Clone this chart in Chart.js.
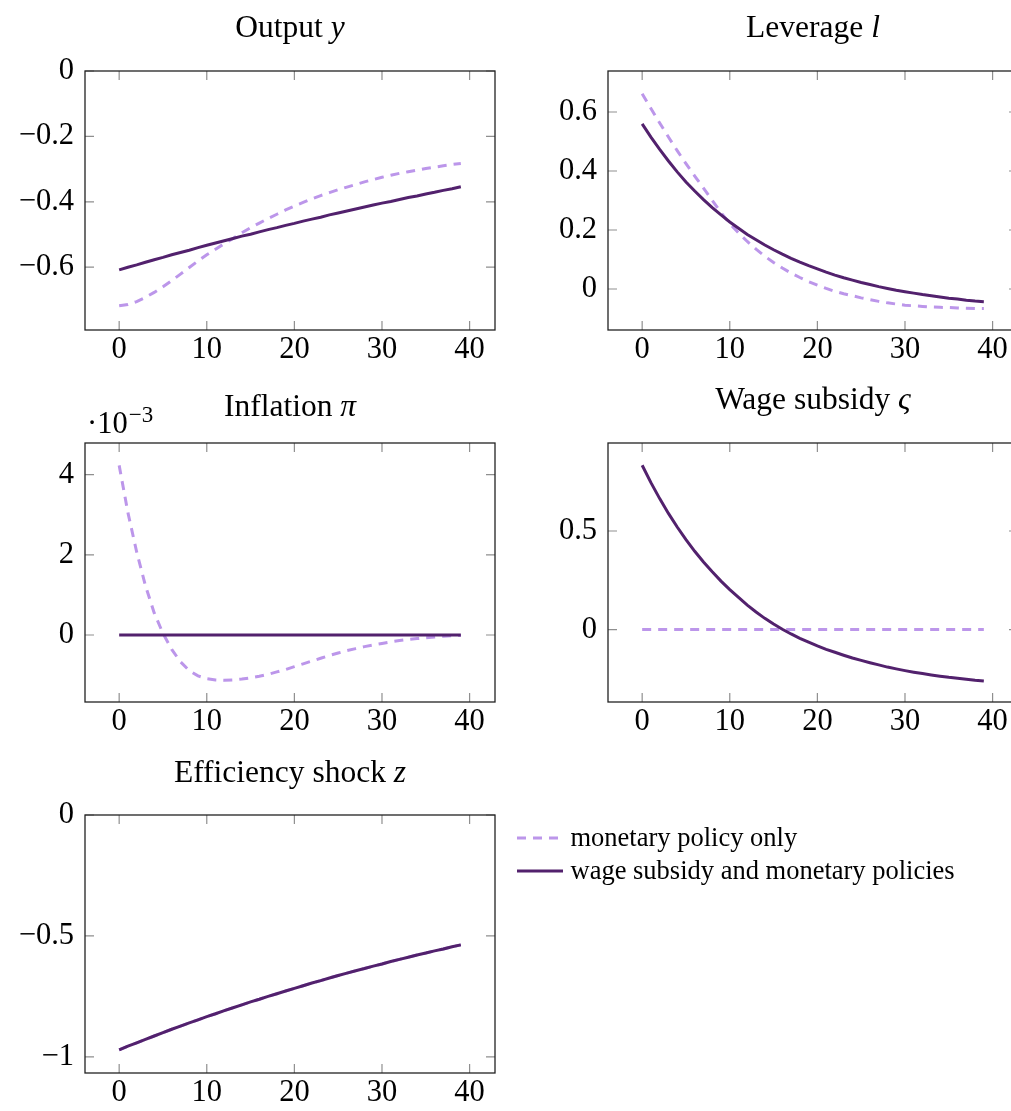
<!DOCTYPE html>
<html>
<head>
<meta charset="utf-8">
<script src="https://cdn.jsdelivr.net/npm/chart.js@4.4.1/dist/chart.umd.min.js"></script>
<style>
html, body { margin:0; padding:0; width:1011px; height:1111px; overflow:hidden; background:#ffffff; }
canvas { position:absolute; }
</style>
</head>
<body>
<canvas id="c1"></canvas>
<canvas id="c2"></canvas>
<canvas id="c3"></canvas>
<canvas id="c4"></canvas>
<canvas id="c5"></canvas>
<script>
// ---------------- DATA ----------------
const periods = [0,1,2,3,4,5,6,7,8,9,10,11,12,13,14,15,16,17,18,19,20,21,22,23,24,25,26,27,28,29,30,31,32,33,34,35,36,37,38,39];
const xTickValues = [0,10,20,30,40];
const seriesLabels = ['monetary policy only', 'wage subsidy and monetary policies'];

// Output y
const outputMonetary = [-0.718,-0.714,-0.705,-0.692,-0.677,-0.660,-0.641,-0.621,-0.601,-0.581,-0.562,-0.545,-0.528,-0.512,-0.495,-0.479,-0.465,-0.451,-0.438,-0.425,-0.413,-0.402,-0.391,-0.381,-0.372,-0.363,-0.355,-0.347,-0.339,-0.332,-0.325,-0.319,-0.313,-0.308,-0.303,-0.298,-0.294,-0.290,-0.286,-0.283];
const outputBoth = [-0.608,-0.600,-0.593,-0.585,-0.577,-0.570,-0.562,-0.555,-0.548,-0.540,-0.533,-0.526,-0.519,-0.512,-0.505,-0.499,-0.492,-0.485,-0.479,-0.472,-0.466,-0.459,-0.453,-0.447,-0.440,-0.434,-0.428,-0.422,-0.416,-0.410,-0.404,-0.399,-0.393,-0.387,-0.382,-0.376,-0.371,-0.365,-0.360,-0.354];
const outputYTicks = [0,-0.2,-0.4,-0.6];
const outputYLabels = ['0','\u22120.2','\u22120.4','\u22120.6'];

// Leverage l
const leverageMonetary = [0.662,0.612,0.563,0.515,0.469,0.425,0.383,0.342,0.300,0.259,0.222,0.190,0.161,0.135,0.111,0.090,0.071,0.054,0.039,0.025,0.013,0.002,-0.008,-0.016,-0.023,-0.030,-0.036,-0.042,-0.047,-0.051,-0.055,-0.057,-0.059,-0.061,-0.062,-0.063,-0.064,-0.065,-0.066,-0.066];
const leverageBoth = [0.560,0.515,0.473,0.434,0.397,0.363,0.332,0.303,0.276,0.251,0.227,0.206,0.185,0.167,0.149,0.133,0.118,0.104,0.091,0.079,0.068,0.057,0.047,0.038,0.030,0.022,0.015,0.008,0.002,-0.004,-0.009,-0.014,-0.019,-0.023,-0.027,-0.031,-0.034,-0.038,-0.041,-0.043];
const leverageYTicks = [0.6,0.4,0.2,0];
const leverageYLabels = ['0.6','0.4','0.2','0'];

// Inflation pi (values in units of 10^-3)
const inflationMonetary = [4.23,3.05,2.07,1.23,0.55,0.04,-0.36,-0.67,-0.89,-1.02,-1.09,-1.12,-1.13,-1.12,-1.10,-1.07,-1.03,-0.98,-0.92,-0.86,-0.79,-0.72,-0.65,-0.58,-0.51,-0.45,-0.39,-0.34,-0.29,-0.25,-0.21,-0.17,-0.14,-0.11,-0.09,-0.07,-0.05,-0.03,-0.02,-0.01];
const inflationBoth = [0,0,0,0,0,0,0,0,0,0,0,0,0,0,0,0,0,0,0,0,0,0,0,0,0,0,0,0,0,0,0,0,0,0,0,0,0,0,0,0];
const inflationYTicks = [4,2,0];
const inflationYLabels = ['4','2','0'];

// Wage subsidy varsigma
const subsidyMonetary = [0,0,0,0,0,0,0,0,0,0,0,0,0,0,0,0,0,0,0,0,0,0,0,0,0,0,0,0,0,0,0,0,0,0,0,0,0,0,0,0];
const subsidyBoth = [0.833,0.745,0.664,0.589,0.520,0.456,0.397,0.343,0.293,0.246,0.203,0.163,0.124,0.089,0.057,0.028,0.002,-0.022,-0.044,-0.064,-0.083,-0.100,-0.115,-0.130,-0.144,-0.156,-0.168,-0.179,-0.190,-0.199,-0.208,-0.216,-0.223,-0.230,-0.236,-0.242,-0.247,-0.252,-0.257,-0.261];
const subsidyYTicks = [0.5,0];
const subsidyYLabels = ['0.5','0'];

// Efficiency shock z
const shockMonetary = [-0.971,-0.956,-0.942,-0.928,-0.914,-0.900,-0.886,-0.873,-0.860,-0.847,-0.834,-0.822,-0.809,-0.797,-0.785,-0.773,-0.762,-0.750,-0.739,-0.728,-0.717,-0.706,-0.695,-0.685,-0.674,-0.664,-0.654,-0.644,-0.635,-0.625,-0.616,-0.606,-0.597,-0.588,-0.579,-0.571,-0.562,-0.554,-0.545,-0.537];
const shockBoth = [-0.971,-0.956,-0.942,-0.928,-0.914,-0.900,-0.886,-0.873,-0.860,-0.847,-0.834,-0.822,-0.809,-0.797,-0.785,-0.773,-0.762,-0.750,-0.739,-0.728,-0.717,-0.706,-0.695,-0.685,-0.674,-0.664,-0.654,-0.644,-0.635,-0.625,-0.616,-0.606,-0.597,-0.588,-0.579,-0.571,-0.562,-0.554,-0.545,-0.537];
const shockYTicks = [0,-0.5,-1];
const shockYLabels = ['0','\u22120.5','\u22121'];

// ---------------- STYLE / LAYOUT ----------------
const FONT = "'Liberation Serif', 'Times New Roman', serif";
const COLOR_DASHED = '#bc96ea';
const COLOR_SOLID = '#52216d';
const Y_AXIS_W = 85, X_AXIS_H = 45, PAD_TOP = 60, PLOT_W = 410;
const TITLE_SIZE = 31.5, TICK_SIZE = 30.5, LEGEND_SIZE = 26.5;

const panels = [
  { id:'c1', left:85,  top:71,  h:259, ymin:-0.792, ymax:0,     title:[['Output ',false],['y',true]],            titleGap:33.7,
    a:outputMonetary, b:outputBoth, yt:outputYTicks, yl:outputYLabels },
  { id:'c2', left:608, top:71,  h:259, ymin:-0.139, ymax:0.739, title:[['Leverage ',false],['l',true]],          titleGap:33.7,
    a:leverageMonetary, b:leverageBoth, yt:leverageYTicks, yl:leverageYLabels },
  { id:'c3', left:85,  top:443, h:259, ymin:-1.671, ymax:4.788, title:[['Inflation ',false],['\u03c0',true]],    titleGap:27,
    a:inflationMonetary, b:inflationBoth, yt:inflationYTicks, yl:inflationYLabels, multiplier:true },
  { id:'c4', left:608, top:443, h:259, ymin:-0.367, ymax:0.946, title:[['Wage subsidy ',false],['\u03c2',true]], titleGap:33.7,
    a:subsidyMonetary, b:subsidyBoth, yt:subsidyYTicks, yl:subsidyYLabels },
  { id:'c5', left:85,  top:815, h:258, ymin:-1.067, ymax:0,     title:[['Efficiency shock ',false],['z',true]],  titleGap:33.3,
    a:shockMonetary, b:shockBoth, yt:shockYTicks, yl:shockYLabels, legend:true, padRight:516 }
];
const panelById = {};
panels.forEach(p => panelById[p.id] = p);

const panelPlugin = {
  id: 'panelDecor',
  beforeDatasetsDraw(chart) {
    const {ctx, chartArea:a, scales:{x, y}} = chart;
    ctx.save();
    ctx.strokeStyle = '#8f8f8f';
    ctx.lineWidth = 1.2;
    ctx.beginPath();
    x.ticks.forEach(t => {
      const px = x.getPixelForValue(t.value);
      ctx.moveTo(px, a.top); ctx.lineTo(px, a.top + 9);
      ctx.moveTo(px, a.bottom); ctx.lineTo(px, a.bottom - 9);
    });
    y.ticks.forEach(t => {
      const py = y.getPixelForValue(t.value);
      ctx.moveTo(a.left, py); ctx.lineTo(a.left + 9, py);
      ctx.moveTo(a.right, py); ctx.lineTo(a.right - 9, py);
    });
    ctx.stroke();
    ctx.restore();
  },
  afterDatasetsDraw(chart) {
    const {ctx, chartArea:a} = chart;
    ctx.save();
    ctx.strokeStyle = '#222222';
    ctx.lineWidth = 1.3;
    ctx.strokeRect(a.left, a.top, a.right - a.left, a.bottom - a.top);
    ctx.restore();
  },
  afterDraw(chart) {
    const p = panelById[chart.canvas.id];
    if (!p) return;
    const {ctx, chartArea:a} = chart;
    ctx.save();
    ctx.fillStyle = '#000000';
    ctx.textBaseline = 'alphabetic';
    ctx.textAlign = 'left';
    // title
    let total = 0;
    const widths = p.title.map(([txt, it]) => {
      ctx.font = (it ? 'italic ' : '') + TITLE_SIZE + 'px ' + FONT;
      const w = ctx.measureText(txt).width; total += w; return w;
    });
    let xx = (a.left + a.right) / 2 - total / 2;
    const by = a.top - p.titleGap;
    p.title.forEach(([txt, it], i) => {
      ctx.font = (it ? 'italic ' : '') + TITLE_SIZE + 'px ' + FONT;
      ctx.fillText(txt, xx, by);
      xx += widths[i];
    });
    // multiplier
    if (p.multiplier) {
      ctx.font = TICK_SIZE + 'px ' + FONT;
      const base = '\u00b710';
      ctx.fillText(base, a.left + 2, a.top - 10.3);
      const w = ctx.measureText(base).width;
      ctx.font = '23px ' + FONT;
      ctx.fillText('\u22123', a.left + 2 + w + 1, a.top - 21.5);
    }
    // legend
    if (p.legend) {
      const ds = chart.data.datasets;
      ds.forEach((d, i) => {
        const ry = a.top + 23 + i * 33;
        ctx.save();
        ctx.strokeStyle = d.borderColor;
        ctx.lineWidth = d.borderWidth;
        ctx.setLineDash(d.borderDash || []);
        ctx.beginPath();
        ctx.moveTo(a.right + 22, ry);
        ctx.lineTo(a.right + 68, ry);
        ctx.stroke();
        ctx.restore();
        ctx.font = LEGEND_SIZE + 'px ' + FONT;
        ctx.fillStyle = '#000000';
        ctx.fillText(d.label, a.right + 75.5, ry + 7.5);
      });
    }
    ctx.restore();
  }
};

panels.forEach(p => {
  const cv = document.getElementById(p.id);
  const padR = p.padRight || 15;
  const W = Y_AXIS_W + PLOT_W + padR;
  const H = PAD_TOP + p.h + X_AXIS_H;
  cv.width = W; cv.height = H;
  cv.style.width = W + 'px'; cv.style.height = H + 'px';
  cv.style.left = (p.left - Y_AXIS_W) + 'px';
  cv.style.top = (p.top - PAD_TOP) + 'px';
  new Chart(cv, {
    type: 'line',
    data: {
      labels: periods,
      datasets: [
        { label: seriesLabels[0], data: p.a, borderColor: COLOR_DASHED, borderWidth: 3, borderDash: [9, 7],
          pointRadius: 0, tension: 0, fill: false, order: 1 },
        { label: seriesLabels[1], data: p.b, borderColor: COLOR_SOLID, borderWidth: 3,
          pointRadius: 0, tension: 0, fill: false, order: 0 }
      ]
    },
    options: {
      responsive: false,
      animation: false,
      devicePixelRatio: 1,
      layout: { padding: { top: PAD_TOP, right: padR, left: 0, bottom: 0 } },
      plugins: { legend: { display: false }, tooltip: { enabled: false }, title: { display: false } },
      scales: {
        x: {
          type: 'linear', min: -3.9, max: 42.9,
          grid: { display: false, drawTicks: false }, border: { display: false },
          afterBuildTicks: s => { s.ticks = xTickValues.map(v => ({ value: v })); },
          afterFit: s => { s.height = X_AXIS_H; },
          ticks: { color: '#000', padding: 2, maxRotation: 0, autoSkip: false,
                   font: { family: FONT, size: TICK_SIZE }, callback: v => String(v) }
        },
        y: {
          type: 'linear', min: p.ymin, max: p.ymax,
          grid: { display: false, drawTicks: false }, border: { display: false },
          afterBuildTicks: s => { s.ticks = p.yt.map(v => ({ value: v })); },
          afterFit: s => { s.width = Y_AXIS_W; },
          ticks: { color: '#000', padding: 11, autoSkip: false,
                   font: { family: FONT, size: TICK_SIZE }, callback: (v, i) => p.yl[i] }
        }
      }
    },
    plugins: [panelPlugin]
  });
});
</script>
</body>
</html>
